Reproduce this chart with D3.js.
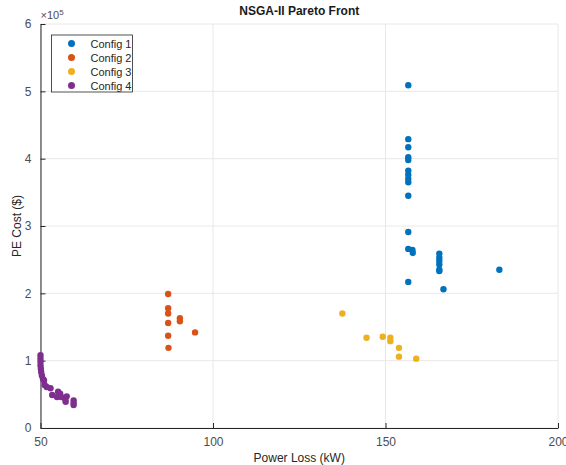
<!DOCTYPE html>
<html>
<head>
<meta charset="utf-8">
<script src="https://cdn.jsdelivr.net/npm/d3@7"></script>
<style>
  body { margin: 0; background: #fff; }
  text { font-family: "Liberation Sans", Arial, sans-serif; }
</style>
</head>
<body>
<script>
/* Data (PE cost in units of 1e5 $) */

var seriesNames = ["Config 1", "Config 2", "Config 3", "Config 4"];
var seriesColors = ["#0072BD", "#D95319", "#EDB120", "#7E2F8E"];

var config1Loss = [156.6, 156.6, 156.6, 156.6, 156.6, 156.6, 156.6, 156.6, 156.6, 156.6, 156.6, 156.6, 157.8, 157.9, 156.6,
	165.6, 165.6, 165.6, 165.6, 165.6, 165.6, 166.8, 183.0];
var config1Cost = [5.09, 4.29, 4.17, 4.02, 3.98, 3.82, 3.76, 3.70, 3.65, 3.45, 2.91, 2.66, 2.645, 2.60, 2.17,
	2.59, 2.53, 2.48, 2.43, 2.35, 2.33, 2.06, 2.35];

var config2Loss = [87.0, 87.0, 87.0, 87.0, 90.4, 90.4, 87.0, 87.1, 94.8];
var config2Cost = [1.99, 1.78, 1.70, 1.56, 1.63, 1.585, 1.37, 1.19, 1.42];

var config3Loss = [137.5, 144.5, 149.2, 151.4, 151.4, 153.9, 153.9, 158.9];
var config3Cost = [1.70, 1.34, 1.355, 1.34, 1.29, 1.19, 1.06, 1.03];

var config4Loss = [50.0, 50.0, 50.0, 50.0, 50.1, 50.2, 50.4, 50.7, 51.0, 51.2, 51.8, 52.9, 53.4, 55.1, 54.8, 56.0,
	55.7, 57.2, 57.6, 59.6, 59.6, 59.6, 57.3];
var config4Cost = [1.08, 1.03, 0.98, 0.93, 0.88, 0.83, 0.78, 0.73, 0.71, 0.64, 0.61, 0.59, 0.49, 0.54, 0.46, 0.46,
	0.51, 0.42, 0.47, 0.41, 0.37, 0.34, 0.39];

var xTicks = [50, 100, 150, 200];
var yTicks = [0, 1, 2, 3, 4, 5, 6];


/* Canvas */

var width = 566;
var height = 465;
var margin = {left: 40.5, right: 8, top: 24, bottom: 37};

var svg = d3.select("body").append("svg")
	.attr("width", width)
	.attr("height", height);

var x = d3.scaleLinear().domain([50, 200]).range([margin.left, width - margin.right]);
var y = d3.scaleLinear().domain([0, 6]).range([height - margin.bottom, margin.top]);

// grid
var grid = svg.append("g").attr("class", "grid");
grid.selectAll("line.gx")
	.data(xTicks)
	.enter().append("line")
		.attr("x1", function(d) { return x(d); })
		.attr("x2", function(d) { return x(d); })
		.attr("y1", y(0))
		.attr("y2", y(6))
		.attr("stroke", "#e8e8e8")
		.attr("stroke-width", 1);
grid.selectAll("line.gy")
	.data(yTicks)
	.enter().append("line")
		.attr("y1", function(d) { return y(d); })
		.attr("y2", function(d) { return y(d); })
		.attr("x1", x(50))
		.attr("x2", x(200))
		.attr("stroke", "#e8e8e8")
		.attr("stroke-width", 1);

// axes
var xAxis = svg.append("g")
	.attr("transform", "translate(0," + y(0) + ")")
	.call(d3.axisBottom(x).tickValues(xTicks).tickFormat(d3.format("d"))
		.tickSizeInner(-5).tickSizeOuter(0).tickPadding(9));
var yAxis = svg.append("g")
	.attr("transform", "translate(" + x(50) + ",0)")
	.call(d3.axisLeft(y).tickValues(yTicks).tickFormat(d3.format("d"))
		.tickSizeInner(-5).tickSizeOuter(0).tickPadding(9));

[xAxis, yAxis].forEach(function(ax) {
	ax.select(".domain").attr("stroke", "#262626").attr("stroke-width", 1);
	ax.selectAll(".tick line").attr("stroke", "#262626");
	ax.selectAll(".tick text")
		.attr("fill", "#4d4d4d")
		.style("font-size", "12px");
});

// exponent label
var expo = svg.append("text")
	.attr("x", x(50))
	.attr("y", margin.top - 5)
	.attr("fill", "#4d4d4d")
	.style("font-size", "11px");
expo.append("tspan").text("\u00d710");
expo.append("tspan").attr("dy", -4).style("font-size", "8px").text("5");

// title + labels
svg.append("text")
	.attr("x", (x(50) + x(200)) / 2)
	.attr("y", 15)
	.attr("text-anchor", "middle")
	.attr("fill", "#1a1a1a")
	.style("font-size", "12px")
	.style("font-weight", "bold")
	.text("NSGA-II Pareto Front");

svg.append("text")
	.attr("x", (x(50) + x(200)) / 2)
	.attr("y", 462)
	.attr("text-anchor", "middle")
	.attr("fill", "#262626")
	.style("font-size", "12px")
	.text("Power Loss (kW)");

svg.append("text")
	.attr("transform", "translate(21," + (y(3)) + ") rotate(-90)")
	.attr("text-anchor", "middle")
	.attr("fill", "#262626")
	.style("font-size", "12px")
	.text("PE Cost ($)");

// points
function toPoints(xs, ys) {
	return xs.map(function(v, i) { return {x: v, y: ys[i]}; });
}

var allSeries = [
	toPoints(config1Loss, config1Cost),
	toPoints(config2Loss, config2Cost),
	toPoints(config3Loss, config3Cost),
	toPoints(config4Loss, config4Cost)
];

allSeries.forEach(function(pts, i) {
	svg.append("g")
		.selectAll("circle")
		.data(pts)
		.enter().append("circle")
			.attr("cx", function(d) { return x(d.x); })
			.attr("cy", function(d) { return y(d.y); })
			.attr("r", 3.2)
			.attr("fill", seriesColors[i]);
});

// legend
var legend = svg.append("g").attr("transform", "translate(51.5,35)");
legend.append("rect")
	.attr("width", 81)
	.attr("height", 57)
	.attr("fill", "#fff")
	.attr("stroke", "#262626")
	.attr("stroke-width", 0.8);

var item = legend.selectAll("g.item")
	.data(seriesNames)
	.enter().append("g")
		.attr("transform", function(d, i) { return "translate(0," + (8.5 + i * 14) + ")"; });
item.append("circle")
	.attr("cx", 20)
	.attr("cy", 0)
	.attr("r", 3.5)
	.attr("fill", function(d, i) { return seriesColors[i]; });
item.append("text")
	.attr("x", 39)
	.attr("y", 4)
	.attr("fill", "#262626")
	.style("font-size", "11px")
	.text(function(d) { return d; });
</script>
</body>
</html>
